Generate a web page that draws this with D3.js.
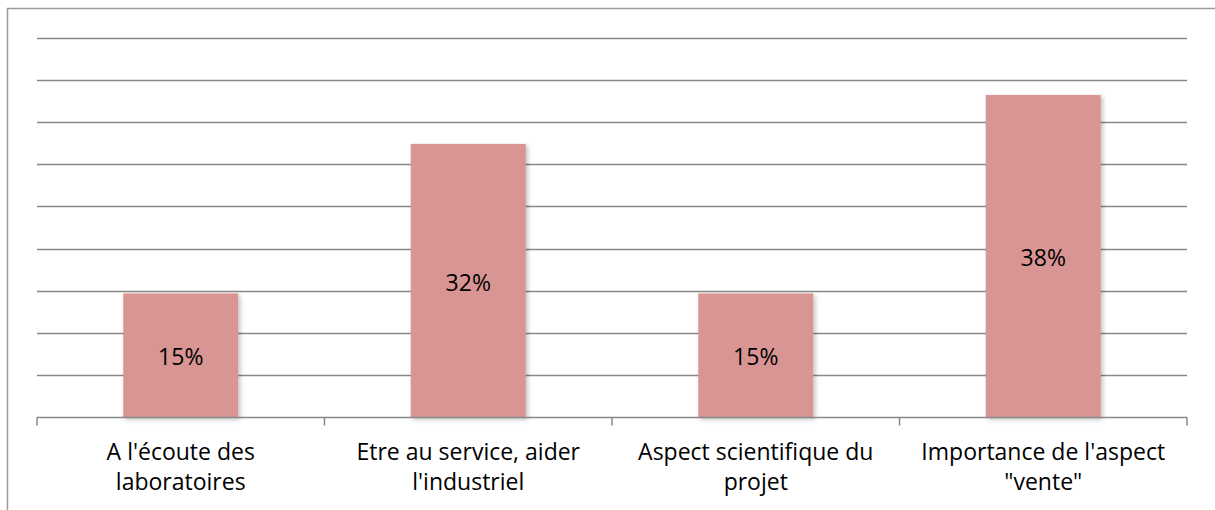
<!DOCTYPE html>
<html>
<head>
<meta charset="utf-8">
<script src="https://cdn.jsdelivr.net/npm/d3@7"></script>
<style>
    html, body { margin: 0; padding: 0; background: #fff; }
    svg { display: block; }
    text { font-family: "Open Sans", Lato, sans-serif; fill: #000; }
</style>
</head>
<body>
<div id="chart"></div>
<script>
(function () {
    "use strict";

    // answers, out of 34 respondents
    var categories = [
        ["A l'écoute des", "laboratoires"],
        ["Etre au service, aider", "l'industriel"],
        ["Aspect scientifique du", "projet"],
        ["Importance de l'aspect", "\"vente\""]
    ];
    var values = [0.147, 0.324, 0.147, 0.382];
    var valueLabels = ["15%", "32%", "15%", "38%"];
    var gridTicks = [0, 0.05, 0.10, 0.15, 0.20, 0.25, 0.30, 0.35, 0.40, 0.45];

    var width = 1215, height = 510;
    var left = 37, right = 1187, top = 37.5, bottom = 417.5;

    var $svg = d3.select("#chart").append("svg")
        .attr("width", width)
        .attr("height", height);

    // shadow under the bars
    var $filter = $svg.append("defs").append("filter")
        .attr("id", "shadow")
        .attr("x", "-10%").attr("y", "-10%")
        .attr("width", "130%").attr("height", "130%");
    $filter.append("feDropShadow")
        .attr("dx", 2).attr("dy", 2)
        .attr("stdDeviation", 2)
        .attr("flood-color", "#000")
        .attr("flood-opacity", 0.25);

    // chart frame, only left and top show
    $svg.append("rect")
        .attr("x", 7.5).attr("y", 8.5)
        .attr("width", width).attr("height", height)
        .attr("fill", "none")
        .attr("stroke", "#9a9a9a")
        .attr("stroke-width", 1.5);

    var x = d3.scaleBand()
        .domain(d3.range(categories.length))
        .range([left, right])
        .paddingInner(0.6)
        .paddingOuter(0.3);

    var xEdges = d3.scaleLinear()
        .domain([0, categories.length])
        .range([left, right]);

    var y = d3.scaleLinear()
        .domain([0, 0.45])
        .range([bottom, top]);

    // gridlines
    $svg.append("g")
        .selectAll("line")
        .data(gridTicks.slice(1))
        .enter()
        .append("line")
        .attr("x1", left).attr("x2", right)
        .attr("y1", function (d) { return Math.round(y(d)) + 0.5; })
        .attr("y2", function (d) { return Math.round(y(d)) + 0.5; })
        .attr("stroke", "#888")
        .attr("stroke-width", 1.5);

    // bars
    $svg.append("g")
        .selectAll("rect")
        .data(values)
        .enter()
        .append("rect")
        .attr("x", function (d, i) { return x(i); })
        .attr("y", function (d) { return y(d); })
        .attr("width", x.bandwidth())
        .attr("height", function (d) { return y(0) - y(d); })
        .attr("fill", "#d99594")
        .attr("filter", "url(#shadow)");

    // category axis
    var $axis = $svg.append("g");
    $axis.append("line")
        .attr("x1", left).attr("x2", right)
        .attr("y1", bottom).attr("y2", bottom)
        .attr("stroke", "#888")
        .attr("stroke-width", 1.5);
    $axis.selectAll(".tick")
        .data(d3.range(categories.length + 1))
        .enter()
        .append("line")
        .attr("class", "tick")
        .attr("x1", function (d) { return xEdges(d); })
        .attr("x2", function (d) { return xEdges(d); })
        .attr("y1", bottom)
        .attr("y2", bottom + 8)
        .attr("stroke", "#888")
        .attr("stroke-width", 1.5);

    var $labels = $axis.selectAll(".cat")
        .data(categories)
        .enter()
        .append("text")
        .attr("class", "cat")
        .attr("text-anchor", "middle")
        .style("font-size", "23px");
    $labels.selectAll("tspan")
        .data(function (d, i) { return d.map(function (t) { return { t: t, i: i }; }); })
        .enter()
        .append("tspan")
        .attr("x", function (d) { return x(d.i) + x.bandwidth() / 2; })
        .attr("y", function (d, j) { return 460 + j * 30; })
        .text(function (d) { return d.t; });

    // value labels inside the bars
    $svg.append("g")
        .selectAll("text")
        .data(values)
        .enter()
        .append("text")
        .attr("text-anchor", "middle")
        .attr("dominant-baseline", "central")
        .style("font-size", "23px")
        .attr("x", function (d, i) { return x(i) + x.bandwidth() / 2; })
        .attr("y", function (d) { return (y(d) + y(0)) / 2 + 1; })
        .text(function (d, i) { return valueLabels[i]; });
}());
</script>
</body>
</html>
